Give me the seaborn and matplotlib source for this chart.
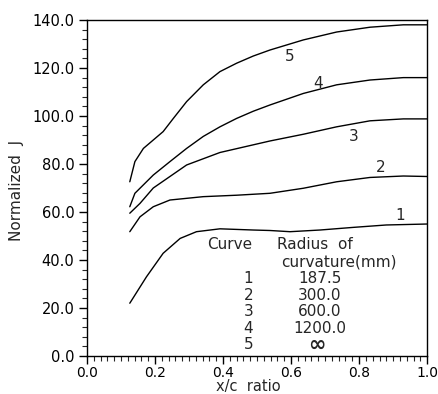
import matplotlib
matplotlib.use("Agg")
import matplotlib.pyplot as plt
from matplotlib.ticker import MultipleLocator, FormatStrFormatter
import seaborn as sns
import pandas as pd

# Data
c1_x = [0.126, 0.175, 0.224, 0.274, 0.322, 0.391, 0.489, 0.538, 0.597, 0.685, 0.783, 0.880, 1.0]
c1_y = [22.0, 33.0, 42.8, 49.0, 51.8, 53.0, 52.5, 52.3, 51.8, 52.5, 53.6, 54.6, 55.0]
c2_x = [0.126, 0.156, 0.195, 0.244, 0.342, 0.440, 0.538, 0.636, 0.734, 0.832, 0.930, 1.0]
c2_y = [51.8, 58.0, 62.2, 65.0, 66.4, 67.0, 67.8, 69.9, 72.6, 74.4, 75.0, 74.8]
c3_x = [0.126, 0.156, 0.195, 0.293, 0.391, 0.489, 0.538, 0.636, 0.734, 0.832, 0.930, 1.0]
c3_y = [59.5, 63.6, 70.0, 79.6, 84.8, 88.0, 89.6, 92.4, 95.5, 98.0, 98.8, 98.8]
c4_x = [0.126, 0.141, 0.195, 0.244, 0.293, 0.342, 0.391, 0.440, 0.489, 0.538, 0.636, 0.734, 0.832, 0.930, 1.0]
c4_y = [62.2, 67.8, 75.4, 81.0, 86.5, 91.5, 95.5, 99.0, 102.0, 104.6, 109.4, 113.0, 115.0, 116.0, 116.0]
c5_x = [0.126, 0.141, 0.166, 0.195, 0.224, 0.254, 0.293, 0.342, 0.391, 0.440, 0.489, 0.538, 0.636, 0.734, 0.832, 0.930, 1.0]
c5_y = [72.6, 81.0, 86.5, 90.0, 93.5, 99.0, 106.0, 113.0, 118.5, 122.0, 125.0, 127.5, 131.7, 135.0, 137.0, 138.0, 138.0]

curve_ids = ["1", "2", "3", "4", "5"]
radii = ["187.5", "300.0", "600.0", "1200.0", "\u221e"]
label_x = [0.92, 0.862, 0.784, 0.68, 0.597]
label_y = [58.7, 78.5, 91.5, 113.5, 124.7]

xs = [c1_x, c2_x, c3_x, c4_x, c5_x]
ys = [c1_y, c2_y, c3_y, c4_y, c5_y]
frames = []
for cid, x, y in zip(curve_ids, xs, ys):
    frames.append(pd.DataFrame({"x": x, "J": y, "curve": cid}))
df = pd.concat(frames, ignore_index=True)

sns.set_style("ticks")
plt.rcParams["font.family"] = ["DejaVu Sans"]

fig = plt.figure(figsize=(4.39, 3.94), dpi=100)
ax = fig.add_axes([0.198, 0.0964, 0.775, 0.8528])

sns.lineplot(data=df, x="x", y="J", units="curve", estimator=None,
             color="black", linewidth=1.0, sort=False, ax=ax, legend=False)

ax.set_xlim(0, 1.0)
ax.set_ylim(0, 140)
ax.xaxis.set_major_locator(MultipleLocator(0.2))
ax.xaxis.set_minor_locator(MultipleLocator(0.02))
ax.yaxis.set_major_locator(MultipleLocator(20))
ax.yaxis.set_minor_locator(MultipleLocator(4))
ax.xaxis.set_major_formatter(FormatStrFormatter("%.1f"))
ax.yaxis.set_major_formatter(FormatStrFormatter("%.1f"))
ax.tick_params(which="major", direction="out", length=6, width=1, labelsize=10.5, colors="black")
ax.tick_params(axis="x", which="major", pad=1.0, labelsize=10)
ax.tick_params(axis="y", which="major", pad=3)
ax.tick_params(which="minor", direction="out", length=3.5, width=0.8)
for s in ax.spines.values():
    s.set_color("black")
    s.set_linewidth(1.0)

ax.set_xlabel("x/c  ratio", fontsize=10.5)
ax.set_ylabel("Normalized  J", fontsize=11)
ax.xaxis.set_label_coords((248 - 87) / 340, -0.067)
ax.yaxis.set_label_coords(-0.185, (356 - 190) / 336)

for cid, lx, ly in zip(curve_ids, label_x, label_y):
    ax.text(lx, ly, cid, ha="center", va="center", fontsize=11)

# table
ax.text(0.42, 46.3, "Curve", ha="center", va="center", fontsize=11)
ax.text(0.56, 46.3, "Radius  of", ha="left", va="center", fontsize=11)
ax.text(0.57, 39.3, "curvature(mm)", ha="left", va="center", fontsize=11)
row_y = [32.4, 25.4, 18.5, 11.5, 4.6]
for cid, r, ry in zip(curve_ids, radii, row_y):
    ax.text(0.474, ry, cid, ha="center", va="center", fontsize=11)
    if r == "\u221e":
        ax.text(0.675, ry, r, ha="center", va="center", fontsize=15, fontweight="bold")
    else:
        ax.text(0.685, ry, r, ha="center", va="center", fontsize=11)

fig.savefig("out.png", dpi=100)
